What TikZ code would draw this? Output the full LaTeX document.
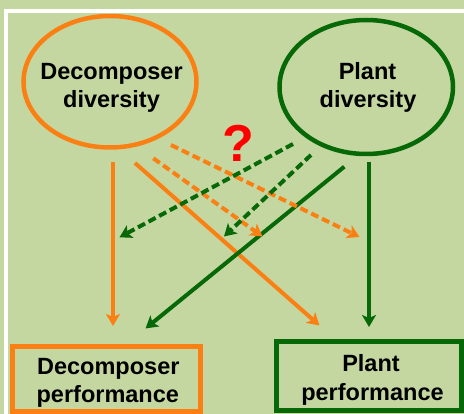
\documentclass[tikz,border=0pt]{standalone}
\usepackage{fontspec}
\setmainfont{Liberation Sans}
\usetikzlibrary{shapes.geometric,arrows.meta}

\definecolor{bgleaf}{HTML}{C5D7A0}
\definecolor{decorange}{HTML}{FA8014}
\definecolor{plantgreen}{HTML}{066806}
\definecolor{askred}{HTML}{FF0000}

\tikzset{
  lbl/.style={font=\bfseries\fontsize{23.5}{28}\selectfont, text=black, inner sep=0pt, anchor=base},
  oval/.style={ellipse, draw=#1, line width=4.5pt, inner sep=0pt},
  panel/.style={rectangle, draw=#1, line width=5pt, inner sep=0pt},
  link/.style={draw=#1, line width=4pt, -{Stealth[length=12pt,width=14pt,inset=3pt]}},
  dlink/.style={link=#1, dash pattern=on 8pt off 4pt}
}

\begin{document}
\begin{tikzpicture}[x=1pt,y=-1pt]
  % canvas
  \fill[bgleaf] (0,0) rectangle (464,414);
  \useasboundingbox (0,0) rectangle (464,414);
  \draw[white, line width=4pt, line join=miter] (6,414) -- (6,11.3) -- (464,11.3);

  % diversity ovals
  \node[oval=decorange, minimum width=173pt, minimum height=131.5pt] (decdiv) at (110,81.75) {};
  \node[oval=plantgreen, minimum width=173.5pt, minimum height=134pt] (plantdiv) at (366.25,87) {};
  \node[lbl] (decdivA) at (111.5,80) {Decomposer};
  \node[lbl] (decdivB) at (111.5,108) {diversity};
  \node[lbl] (plantdivA) at (367.5,80) {Plant};
  \node[lbl] (plantdivB) at (368,108) {diversity};

  % performance boxes
  \node[panel=decorange, minimum width=188pt, minimum height=65pt] (decperf) at (106.5,379) {};
  \node[panel=plantgreen, minimum width=185pt, minimum height=68.5pt] (plantperf) at (369,376.25) {};
  \node[lbl] (decperfA) at (108.3,375) {Decomposer};
  \node[lbl] (decperfB) at (107.8,403) {performance};
  \node[lbl] (plantperfA) at (371,372) {Plant};
  \node[lbl] (plantperfB) at (372.5,401) {performance};

  % open question
  \node[font=\bfseries\fontsize{52}{52}\selectfont, text=askred, inner sep=0pt, anchor=base] (ask) at (238.5,162) {?};

  % connector end points
  \coordinate (o1s) at (113,162);   \coordinate (o1e) at (113,326);
  \coordinate (o2s) at (135,163);   \coordinate (o2e) at (319.5,325.5);
  \coordinate (g1s) at (369,162);   \coordinate (g1e) at (369,327);
  \coordinate (g2s) at (344.3,166.7); \coordinate (g2e) at (145.5,328.5);
  \coordinate (o3s) at (153.3,158.3); \coordinate (o3e) at (262.5,236.5);
  \coordinate (o4s) at (171,145);   \coordinate (o4e) at (359.5,237);
  \coordinate (g3s) at (293,144);   \coordinate (g3e) at (119.5,237.3);
  \coordinate (g4s) at (311,155);   \coordinate (g4e) at (224,236.5);

  % direct effects
  \draw[link=decorange] (o1s) -- (o1e);
  \draw[link=decorange] (o2s) -- (o2e);
  \draw[link=plantgreen] (g1s) -- (g1e);
  \draw[link=plantgreen] (g2s) -- (g2e);

  % uncertain effects
  \draw[dlink=decorange] (o3s) -- (o3e);
  \draw[dlink=decorange] (o4s) -- (o4e);
  \draw[dlink=plantgreen] (g3s) -- (g3e);
  \draw[dlink=plantgreen] (g4s) -- (g4e);
\end{tikzpicture}
\end{document}
